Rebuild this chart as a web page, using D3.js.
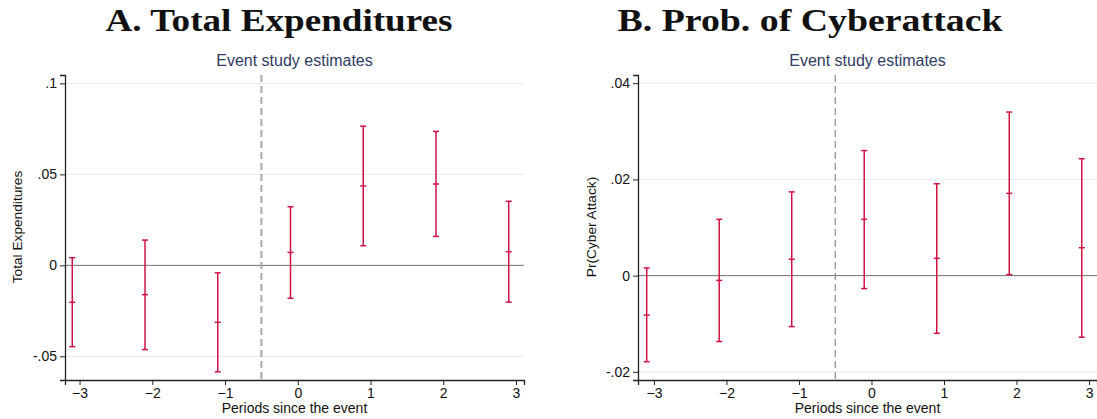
<!DOCTYPE html>
<html>
<head>
<meta charset="utf-8">
<script src="https://cdn.jsdelivr.net/npm/d3@7"></script>
<style>
  body { margin: 0; background: #fff; }
  svg { display: block; font-family: "Liberation Sans", Arial, sans-serif; }
</style>
</head>
<body>
<svg id="chart" width="1097" height="419"></svg>
<script>
// event-time periods
const periods = [-3, -2, -1, 0, 1, 2, 3];

// Panel A: total expenditures (point estimate + 95% CI)
const expEst   = [-0.0203, -0.0161, -0.0313, 0.0071, 0.0436, 0.0447, 0.0075];
const expLower = [-0.0447, -0.0463, -0.0585, -0.0181, 0.0108, 0.0159, -0.0202];
const expUpper = [0.0042, 0.0139, -0.0041, 0.0322, 0.0765, 0.0736, 0.0352];
const expTicks = [-0.05, 0, 0.05, 0.1];

// Panel B: probability of cyberattack
const cybEst   = [-0.0082, -0.0010, 0.0034, 0.0117, 0.0036, 0.0171, 0.0058];
const cybLower = [-0.0179, -0.0137, -0.0106, -0.0027, -0.0120, 0.0002, -0.0128];
const cybUpper = [0.0016, 0.0117, 0.0174, 0.0260, 0.0191, 0.0340, 0.0243];
const cybTicks = [-0.02, 0, 0.02, 0.04];

const svg = d3.select("#chart");
const RED = "#cf1243";

// strip the leading zero like Stata does (.05, -.05)
const fmtTick = v => v === 0 ? "0" : String(v).replace("0.", ".");

function drawPanel(opt) {
  const x = d3.scaleLinear().domain(opt.xDomain).range(opt.xRange);
  const y = d3.scaleLinear().domain(opt.yDomain).range([380, 75]);
  const g = svg.append("g");

  // big serif title
  g.append("text")
    .attr("x", opt.titleX).attr("y", 31)
    .attr("text-anchor", "middle")
    .attr("textLength", opt.titleW).attr("lengthAdjust", "spacingAndGlyphs")
    .style("font-family", "'Liberation Serif', 'DejaVu Serif', serif")
    .style("font-weight", "bold").style("font-size", "31px")
    .style("fill", "#111")
    .text(opt.title);

  const cx = (opt.xRange[0] + opt.xRange[1]) / 2;
  g.append("text")
    .attr("x", cx).attr("y", 66)
    .attr("text-anchor", "middle")
    .style("font-size", "16px").style("fill", "#2e3b62")
    .text("Event study estimates");

  // gridlines
  g.append("g").selectAll("line")
    .data(opt.ticks.filter(t => t !== 0))
    .join("line")
    .attr("x1", opt.xRange[0]).attr("x2", opt.xRange[1])
    .attr("y1", d => y(d)).attr("y2", d => y(d))
    .attr("stroke", "#e4eced").attr("stroke-width", 1);

  // zero line
  g.append("line")
    .attr("x1", opt.xRange[0]).attr("x2", opt.xRange[1])
    .attr("y1", y(0)).attr("y2", y(0))
    .attr("stroke", "#707070").attr("stroke-width", 1);

  // event line
  g.append("line")
    .attr("x1", x(-0.5)).attr("x2", x(-0.5))
    .attr("y1", 75).attr("y2", 380)
    .attr("stroke", opt.dashColor).attr("stroke-width", opt.dashWidth)
    .attr("stroke-dasharray", "7,4");

  // axes
  const yAxis = d3.axisLeft(y).tickValues(opt.ticks).tickFormat(fmtTick).tickSize(5).tickPadding(3);
  const yg = g.append("g").attr("transform", `translate(${opt.xRange[0]},0)`).call(yAxis);
  const xAxis = d3.axisBottom(x).tickValues(periods).tickFormat(d3.format("d")).tickSize(5).tickPadding(3);
  const xg = g.append("g").attr("transform", "translate(0,380)").call(xAxis);
  [yg, xg].forEach(a => {
    a.select(".domain").attr("stroke", "#222").attr("stroke-width", 1.3);
    a.selectAll(".tick line").attr("stroke", "#222");
    a.selectAll(".tick text").style("font-size", "14px").style("fill", "#111")
      .style("font-family", "'Liberation Sans', Arial, sans-serif");
  });

  g.append("text")
    .attr("x", cx).attr("y", 413)
    .attr("text-anchor", "middle")
    .style("font-size", "14px").style("fill", "#111")
    .text("Periods since the event");

  g.append("text")
    .attr("transform", `translate(${opt.yTitleX},227) rotate(-90)`)
    .attr("text-anchor", "middle")
    .style("font-size", "13.7px").style("fill", "#111")
    .text(opt.yTitle);

  // error bars
  const rows = periods.map((p, i) => ({ p, est: opt.est[i], lo: opt.lower[i], hi: opt.upper[i] }));
  const bars = g.append("g").selectAll("g").data(rows).join("g")
    .attr("stroke", RED).attr("stroke-width", 1.5);
  bars.append("line")
    .attr("x1", d => x(d.p - 0.1)).attr("x2", d => x(d.p - 0.1))
    .attr("y1", d => y(d.lo)).attr("y2", d => y(d.hi));
  ["lo", "hi", "est"].forEach(k => {
    bars.append("line")
      .attr("x1", d => x(d.p - 0.1) - 3).attr("x2", d => x(d.p - 0.1) + 3)
      .attr("y1", d => y(d[k])).attr("y2", d => y(d[k]));
  });
}

drawPanel({
  title: "A. Total Expenditures", titleX: 279, titleW: 347,
  yTitle: "Total Expenditures", yTitleX: 22,
  xDomain: [-3.2, 3.11], xRange: [65, 524],
  yDomain: [-0.063, 0.1046], ticks: expTicks,
  est: expEst, lower: expLower, upper: expUpper,
  dashColor: "#a8a8a8", dashWidth: 2
});

drawPanel({
  title: "B. Prob. of Cyberattack", titleX: 810, titleW: 385,
  yTitle: "Pr(Cyber Attack)", yTitleX: 596,
  xDomain: [-3.22, 3.11], xRange: [638, 1097],
  yDomain: [-0.0217, 0.0417], ticks: cybTicks,
  est: cybEst, lower: cybLower, upper: cybUpper,
  dashColor: "#8a8a8a", dashWidth: 1.2
});
</script>
</body>
</html>
